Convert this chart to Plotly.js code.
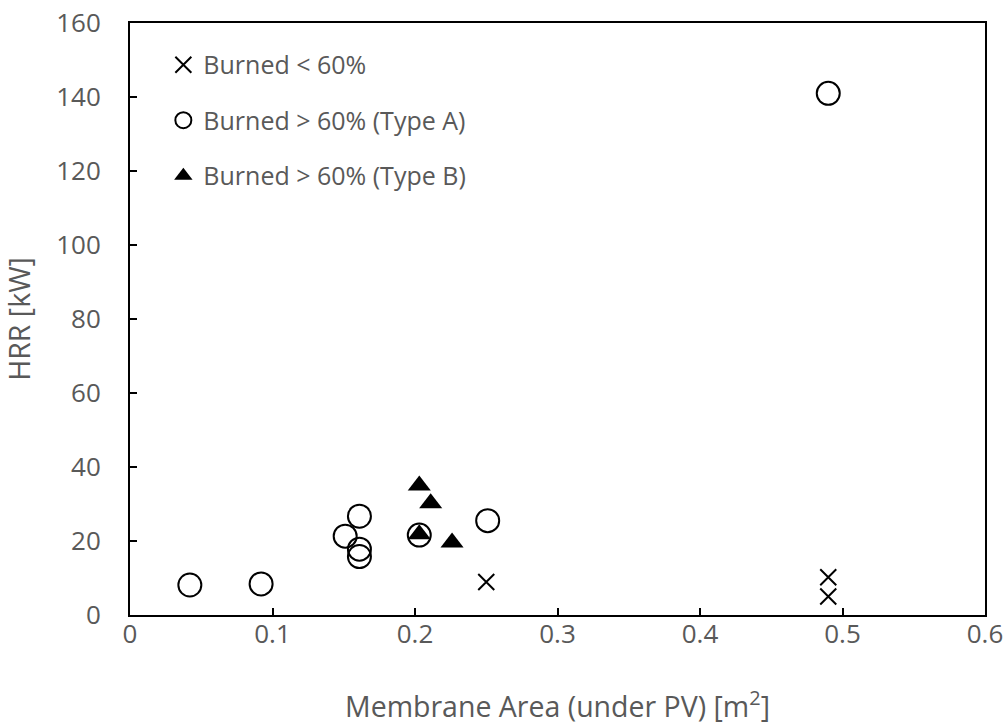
<!DOCTYPE html>
<html>
<head>
<meta charset="utf-8">
<script src="https://cdn.plot.ly/plotly-3.0.1.min.js"></script>
<style>html,body{margin:0;padding:0;background:#fff;}#chart{width:1006px;height:725px;}</style>
</head>
<body>
<div id="chart"></div>
<script>
// Burned < 60%
const burnedLowX = [0.25, 0.49, 0.49];
const burnedLowY = [8.9, 10.2, 5.0];
// Burned > 60% (Type A)
const typeAX = [0.042, 0.092, 0.151, 0.161, 0.161, 0.161, 0.203, 0.251, 0.49];
const typeAY = [8.1, 8.4, 21.3, 26.7, 17.8, 15.8, 21.6, 25.5, 141.0];
// Burned > 60% (Type B)
const typeBX = [0.203, 0.211, 0.203, 0.226];
const typeBY = [35.0, 30.2, 21.8, 19.6];

const xTicks = [0, 0.1, 0.2, 0.3, 0.4, 0.5, 0.6];
const xTickText = ['0', '0.1', '0.2', '0.3', '0.4', '0.5', '0.6'];
const yTicks = [0, 20, 40, 60, 80, 100, 120, 140, 160];

const fontFam = '"Open Sans", "Noto Sans", sans-serif';
const grey = '#595959';

const traces = [
  {
    x: burnedLowX, y: burnedLowY, type: 'scatter', mode: 'markers',
    name: 'Burned < 60%', legendgroup: 'a',
    marker: {symbol: 'x-thin', size: 16, color: '#000', line: {color: '#000', width: 2}}
  },
  {
    x: typeAX, y: typeAY, type: 'scatter', mode: 'markers',
    name: 'Burned > 60% (Type A)', legendgroup: 'b',
    marker: {symbol: 'circle-open', size: 23, color: '#000', line: {color: '#000', width: 2}}
  },
  {
    x: typeBX, y: typeBY, type: 'scatter', mode: 'markers',
    name: 'Burned > 60% (Type B)', legendgroup: 'c',
    marker: {symbol: 'triangle-up', size: 20, color: '#000', line: {width: 0}}
  }
];

const layout = {
  width: 1006, height: 725,
  paper_bgcolor: '#fff', plot_bgcolor: '#fff',
  margin: {l: 130, r: 21, t: 23, b: 110},
  font: {family: fontFam, color: grey, size: 22},
  showlegend: true,
  legend: {
    x: 0.039, y: 0.968, xanchor: 'left', yanchor: 'top',
    bgcolor: 'rgba(0,0,0,0)', borderwidth: 0,
    font: {family: fontFam, size: 25, color: grey},
    traceorder: 'grouped', tracegroupgap: 20, itemsizing: 'trace'
  },
  xaxis: {
    range: [0, 0.6], tickvals: xTicks, ticktext: xTickText,
    ticks: 'inside', ticklen: 7, tickwidth: 2, tickcolor: '#000',
    showline: true, linecolor: '#000', linewidth: 2, mirror: true,
    showgrid: false, zeroline: false, ticklabelstandoff: -5,
    tickfont: {family: fontFam, size: 26, color: grey},
    title: {text: 'Membrane Area (under PV) [m<sup>2</sup>]', font: {family: fontFam, size: 28.5, color: grey}, standoff: 48}
  },
  yaxis: {
    range: [0, 160], tickvals: yTicks,
    ticks: 'inside', ticklen: 7, tickwidth: 2, tickcolor: '#000',
    showline: true, linecolor: '#000', linewidth: 2, mirror: true,
    showgrid: false, zeroline: false, ticklabelstandoff: 22,
    tickfont: {family: fontFam, size: 26, color: grey},
    title: {text: 'HRR [kW]', font: {family: fontFam, size: 28.5, color: grey}, standoff: 23}
  }
};

Plotly.newPlot('chart', traces, layout, {displayModeBar: false, staticPlot: true});
</script>
</body>
</html>
